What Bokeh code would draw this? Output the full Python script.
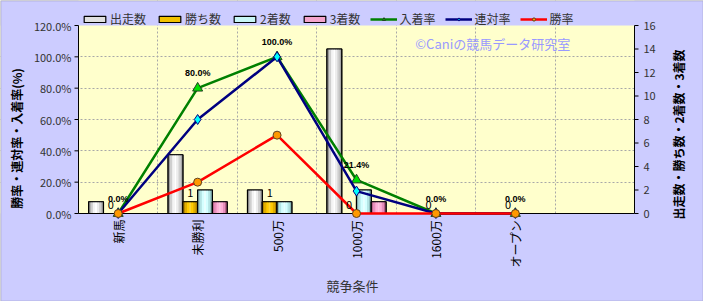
import math
from bokeh.plotting import figure
from bokeh.models import (Range1d, FixedTicker, Legend, LegendItem, Label,
                          BoxAnnotation, Grid, ColumnDataSource)
from bokeh.core.properties import value
from bokeh.embed import file_html
from bokeh.resources import INLINE

# ---- data ----
categories = ["新馬", "未勝利", "500万", "1000万", "1600万", "オープン"]
starts = [1, 5, 2, 14, 0, 0]        # 出走数
wins = [0, 1, 1, 0, 0, 0]           # 勝ち数
seconds = [0, 2, 1, 2, 0, 0]        # 2着数
thirds = [0, 1, 0, 1, 0, 0]         # 3着数
place_rate = [0.0, 0.80, 1.00, 0.214, 0.0, 0.0]   # 入着率
quinella_rate = [0.0, 0.60, 1.00, 0.143, 0.0, 0.0]  # 連対率
win_rate = [0.0, 0.20, 0.50, 0.0, 0.0, 0.0]       # 勝率
place_labels = ["0.0%", "80.0%", "100.0%", "21.4%", "0.0%", "0.0%"]
win_labels = ["0", "1", "1", "0", "0", "0"]
left_ticks = [0, 0.2, 0.4, 0.6, 0.8, 1.0, 1.2]
left_tick_labels = ["0.0%", "20.0%", "40.0%", "60.0%", "80.0%", "100.0%", "120.0%"]
right_ticks = [0, 2, 4, 6, 8, 10, 12, 14, 16]
right_tick_labels = [str(t) for t in right_ticks]
left_max = 1.2
right_max = 16

FONT = "Noto Sans CJK JP"
BG_OUT = "#CCCCFF"
n_slots = len(categories) + 1
xc = [i + 0.5 for i in range(len(categories))]

# geometry: plotting area 78..634 x 25..213 ; the frame covers the whole
# canvas and the axes, legend and titles are drawn inside it
W, H = 703, 301
PL, PR, PT, PB = 78, 634, 25, 213
ux = (PR - PL) / n_slots
uy = (PB - PT) / left_max
uy2 = (PB - PT) / right_max

p = figure(width=W, height=H, output_backend="svg", toolbar_location=None,
           x_range=Range1d(-PL / ux, (W - PL) / ux),
           y_range=Range1d(-(H - PB) / uy, PB / uy),
           x_axis_location=None, y_axis_location=None,
           min_border_left=0, min_border_right=0, min_border_top=0,
           min_border_bottom=0)
p.background_fill_color = "#FFFFCC"
p.border_fill_color = BG_OUT
p.outline_line_color = None
p.extra_y_ranges = {"cnt": Range1d(-(H - PB) / uy2, PB / uy2)}

# grid
for g in list(p.grid):
    p.center.remove(g)
xg = Grid(dimension=0, ticker=FixedTicker(ticks=list(range(1, n_slots))))
yg = Grid(dimension=1, ticker=FixedTicker(ticks=left_ticks[1:-1]))
for g in (xg, yg):
    g.grid_line_color = "#A8A8A8"
    g.grid_line_dash = "2 2"
    g.grid_line_width = 1
    p.add_layout(g)

# lavender areas outside the plotting area (under the glyphs)
for kw in (dict(right=0), dict(left=n_slots), dict(bottom=left_max), dict(top=0)):
    p.add_layout(BoxAnnotation(fill_color=BG_OUT, fill_alpha=1, line_color=None,
                               level="underlay", **kw))
# thin dark frame around the whole image
p.add_layout(BoxAnnotation(fill_alpha=0, line_color="#404040", line_width=1.5,
                           level="overlay"))

# x axis drawn as glyphs
p.segment(x0=[0], y0=[0], x1=[n_slots], y1=[0], line_color="#000000", line_width=1)
label_len = [sum(7 if ord(ch) < 128 else 12 for ch in c) for c in categories]
cat_src = ColumnDataSource(dict(x=xc, y=[0] * len(xc), text=categories,
                                yoff=[6 + L / 2 for L in label_len]))
p.text(x="x", y="y", text="text", source=cat_src, angle=math.pi / 2,
       y_offset="yoff", text_align="center", text_baseline="middle",
       text_font=value(FONT), text_font_size="12px", text_color="#000000")
p.add_layout(Label(x=n_slots / 2 - 4 / ux, y=-72 / uy, text="競争条件",
                   text_font=FONT, text_font_size="13px", text_color="#333333",
                   text_align="center", text_baseline="middle"))

# y axes drawn as glyphs
tick_len = 4 / ux
p.segment(x0=[0], y0=[0], x1=[0], y1=[left_max], line_color="#000000", line_width=1)
p.segment(x0=[-tick_len] * len(left_ticks), y0=left_ticks, x1=[0] * len(left_ticks),
          y1=left_ticks, line_color="#000000", line_width=1)
p.text(x=[0] * len(left_ticks), y=left_ticks, text=left_tick_labels, x_offset=-7,
       text_align="right", text_baseline="middle", text_font=value(FONT),
       text_font_size="11px", text_color="#333333")
p.segment(x0=[n_slots], y0=[0], x1=[n_slots], y1=[right_max], y_range_name="cnt",
          line_color="#000000", line_width=1)
p.segment(x0=[n_slots] * len(right_ticks), y0=right_ticks,
          x1=[n_slots + tick_len] * len(right_ticks), y1=right_ticks,
          y_range_name="cnt", line_color="#000000", line_width=1)
p.text(x=[n_slots] * len(right_ticks), y=right_ticks, text=right_tick_labels,
       x_offset=9, y_range_name="cnt", text_align="left", text_baseline="middle",
       text_font=value(FONT), text_font_size="11px", text_color="#333333")

# axis titles
p.add_layout(Label(x=-62 / ux, y=0.479, angle=math.pi / 2,
                   text="勝率・連対率・入着率(%)", text_font=FONT,
                   text_font_size="12px", text_font_style="bold",
                   text_color="#000000", text_align="center",
                   text_baseline="middle"))
p.add_layout(Label(x=n_slots + 44 / ux, y=0.504, angle=math.pi / 2,
                   text="出走数・勝ち数・2着数・3着数", text_font=FONT,
                   text_font_size="12px", text_font_style="bold",
                   text_color="#000000", text_align="center",
                   text_baseline="middle"))

# bars (cylinder-like shading with thin strips)
bw = 0.186
offs = [-0.279, -0.093, 0.093, 0.279]
bar_series = [
    ("出走数", starts, "#E0E0E0",
     ["#9C9C9C", "#CFCFCF", "#F4F4F4", "#FFFFFF", "#EDEDED", "#CFCFCF", "#A8A8A8"]),
    ("勝ち数", wins, "#F2C200",
     ["#B88A00", "#E0AE00", "#FFCC00", "#FFD633", "#FFCC00", "#E0AE00", "#B08400"]),
    ("2着数", seconds, "#C8F6F6",
     ["#8CBCBC", "#B4E4E4", "#D4FFFF", "#E8FFFF", "#D4FFFF", "#B4E4E4", "#88B8B8"]),
    ("3着数", thirds, "#F4A4CC",
     ["#C06890", "#E890BC", "#FFB0D8", "#FFC4E2", "#FFB0D8", "#E890BC", "#B86088"]),
]
items = []
bar_x = {}
NS = 7
for (name, vals, col, shades), off in zip(bar_series, offs):
    xs = [c + off for c in xc]
    bar_x[name] = xs
    base = p.vbar(x=xs, top=vals, width=bw, bottom=0, y_range_name="cnt",
                  fill_color=col, line_color="#000000", line_width=1.2)
    for k, sc in enumerate(shades):
        dx = (k - (NS - 1) / 2) * bw / NS
        p.vbar(x=[v + dx for v in xs], top=vals, width=bw / NS, bottom=0,
               y_range_name="cnt", fill_color=sc, line_color=None)
    p.vbar(x=xs, top=vals, width=bw, bottom=0, y_range_name="cnt",
           fill_alpha=0, line_color="#000000", line_width=1.2)
    items.append(LegendItem(label=name, renderers=[base]))

# lines
line_series = [("入着率", place_rate, "#008000", "triangle", "#00E000", 10, "#204020"),
               ("連対率", quinella_rate, "#000080", "diamond", "#00FFFF", 10, "#000080"),
               ("勝率", win_rate, "#FF0000", "circle", "#FF9900", 8, "#604020")]
for name, vals, col, mk, mfill, ms, mline in line_series:
    l = p.line(xc, vals, line_color=col, line_width=2.5)
    m = p.scatter(xc, vals, marker=mk, size=ms, fill_color=mfill,
                  line_color=mline, line_width=1)
    items.append(LegendItem(label=name, renderers=[l, m]))

# data labels
p.text(x=bar_x["勝ち数"], y=wins, text=win_labels, y_range_name="cnt",
       text_align="center", text_baseline="bottom", y_offset=-5,
       text_font=value(FONT), text_font_size="11px", text_color="#000000")
p.text(x=xc, y=place_rate, text=place_labels, text_align="center",
       text_baseline="bottom", y_offset=-10, text_font=value("Liberation Sans"),
       text_font_size="9px", text_font_style="bold", text_color="#000000")

# watermark
p.add_layout(Label(x=4.24, y=1.085, text="©Caniの競馬データ研究室",
                   text_font=FONT, text_font_size="13px", text_color="#9999FF",
                   text_baseline="middle", text_align="left"))

legend = Legend(items=items, orientation="horizontal",
                location=(PL + 1, H - PT - 4),
                glyph_width=27, glyph_height=8, label_standoff=2, spacing=10,
                padding=2, margin=0, label_text_font=FONT,
                label_text_font_size="12px", label_text_color="#333333",
                label_height=14,
                background_fill_alpha=0, border_line_alpha=0)
p.add_layout(legend)

open("out.html", "w").write(file_html(p, INLINE))
